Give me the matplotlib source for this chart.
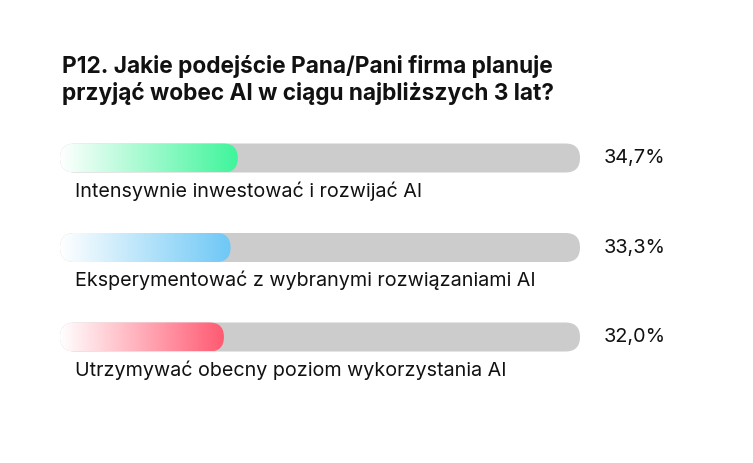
import numpy as np
import matplotlib.pyplot as plt
from matplotlib.patches import FancyBboxPatch
from matplotlib.colors import to_rgb

plt.rcParams['font.family'] = ['Inter', 'DejaVu Sans']

title = "P12. Jakie podejście Pana/Pani firma planuje\nprzyjąć wobec AI w ciągu najbliższych 3 lat?"
labels = [
    "Intensywnie inwestować i rozwijać AI",
    "Eksperymentować z wybranymi rozwiązaniami AI",
    "Utrzymywać obecny poziom wykorzystania AI",
]
values = [34.7, 33.3, 32.0]
value_labels = ["34,7%", "33,3%", "32,0%"]
colors = ["#3ff59b", "#6ec8f6", "#ff5a72"]

W, H = 753, 463
fig = plt.figure(figsize=(W / 100, H / 100), dpi=100)
ax = fig.add_axes([0, 0, 1, 1])
ax.set_xlim(0, W)
ax.set_ylim(H, 0)
ax.axis("off")

x0, full_w, bar_h = 60, 520, 29
y_first, step = 158, 89.5

ax.text(62, 80, title, fontsize=16.3, fontweight="bold", va="center", ha="left",
        color="#111111", linespacing=1.25)

for i, (lab, v, vl, c) in enumerate(zip(labels, values, value_labels, colors)):
    yc = y_first + i * step
    top = yc - bar_h / 2
    r = bar_h / 2
    bg = FancyBboxPatch((x0 + r, top + r), full_w - 2 * r, bar_h - 2 * r,
                        boxstyle=f"round,pad={r}", fc="#cccccc", ec="none", zorder=1)
    ax.add_patch(bg)

    # gradient part from white to color
    w = v / 100 * full_w * 0.985
    fg = FancyBboxPatch((x0 + r, top + r), w - 2 * r, bar_h - 2 * r,
                        boxstyle=f"round,pad={r}", fc="none", ec="none", zorder=2)
    ax.add_patch(fg)
    t = np.linspace(0, 1, 256)[None, :, None]
    rgb = np.array(to_rgb(c))[None, None, :]
    grad = (1 - t) * np.ones(3) + t * rgb
    im = ax.imshow(grad, extent=(x0, x0 + w, top + bar_h, top), aspect="auto",
                   zorder=2, interpolation="bilinear")
    im.set_clip_path(fg)

    ax.text(604, yc, vl, fontsize=14.3, va="center", ha="left", color="#111111")
    ax.text(75, yc + 33, lab, fontsize=14.2, va="center", ha="left", color="#111111")

fig.savefig("out.png", dpi=100, facecolor="white")
